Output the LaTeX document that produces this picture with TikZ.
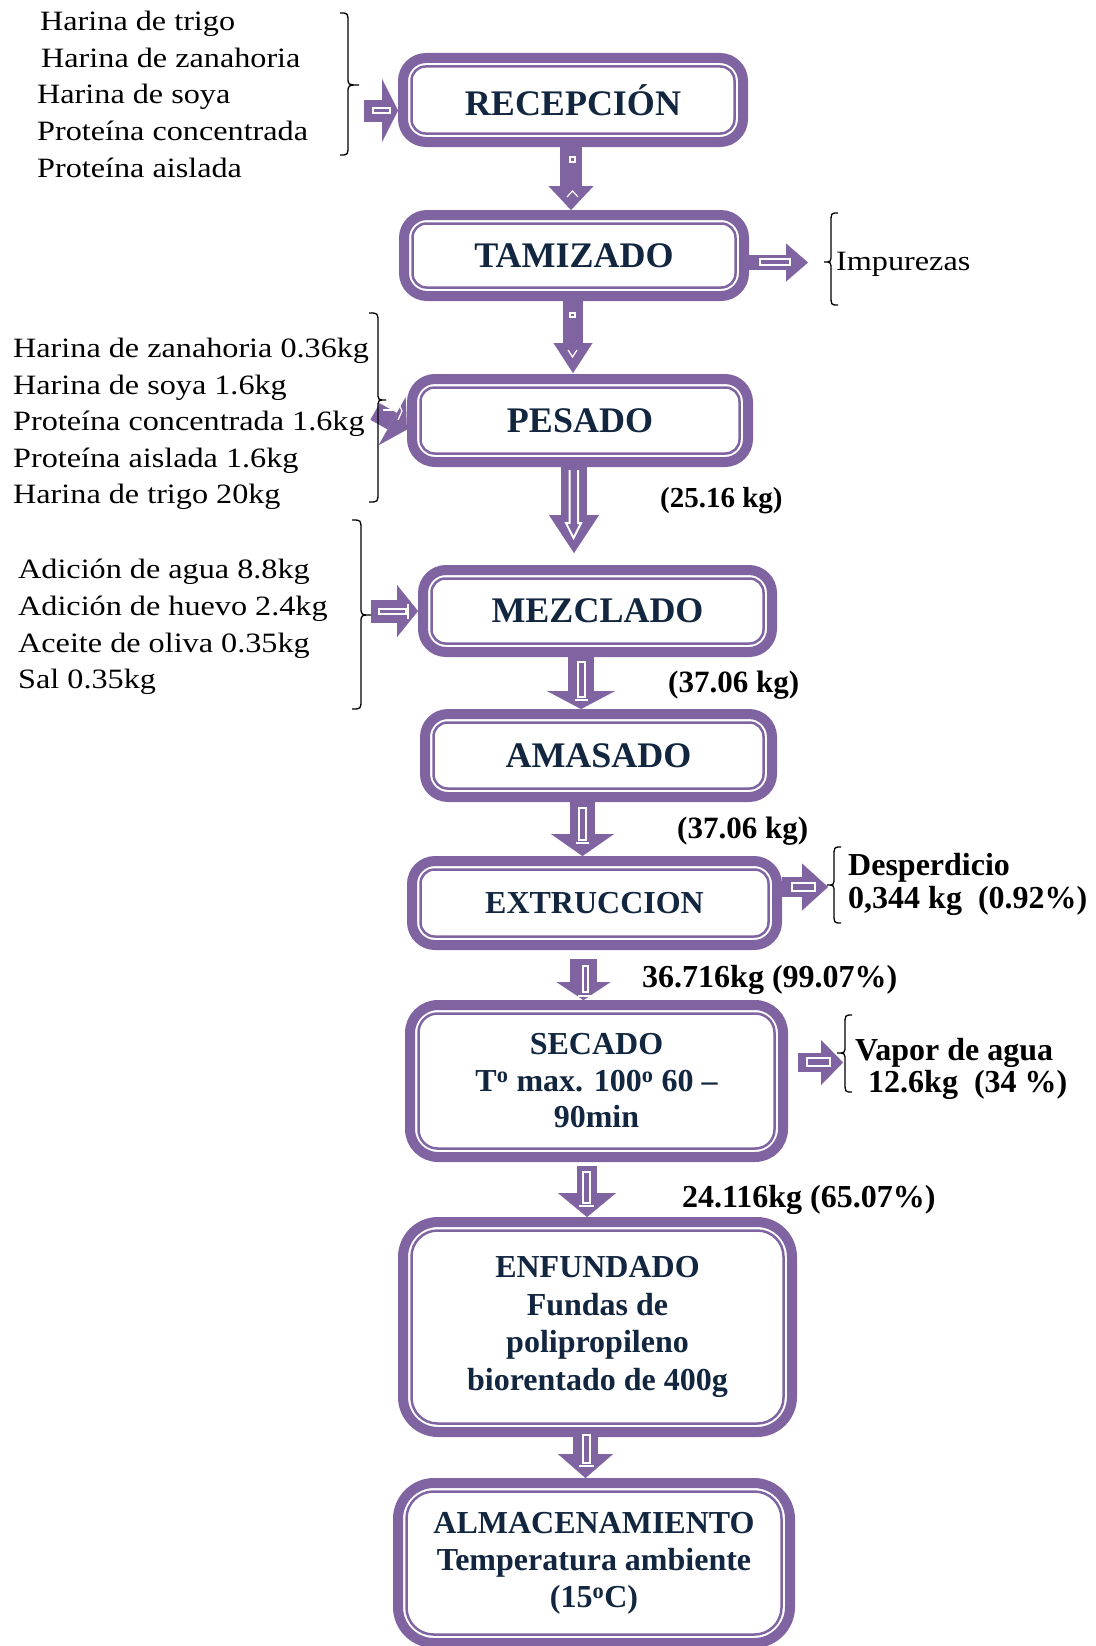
\documentclass[tikz,border=0pt]{standalone}
\usepackage{fontspec}
\setmainfont{Liberation Serif}
\newfontfamily\listfont[FakeStretch=1.15]{Liberation Serif}
\usetikzlibrary{arrows.meta}
\definecolor{purp}{HTML}{8064A2}
\definecolor{navy}{HTML}{12263F}

% inner thin frame of a process box
\newcommand\innerframe[2]{\draw[purp, line width=2.5pt, rounded corners=#2]
  ([shift={(13.5pt,-13.5pt)}]#1.north west) rectangle ([shift={(-13.5pt,13.5pt)}]#1.south east);}
% curly brace: hook x, stem x, tip x, top y, tip y, bottom y
\newcommand\cbrace[6]{\draw[bracepen] (#1,#4) .. controls (#2,#4) .. (#2,#4+10) -- (#2,#5-8)
  .. controls (#2,#5) .. (#3,#5) .. controls (#2,#5) .. (#2,#5+8) -- (#2,#6-10)
  .. controls (#2,#6) .. (#1,#6);}

\begin{document}
\begin{tikzpicture}[x=1pt,y=-1pt,
  stage/.style={draw=purp, line width=10pt, fill=white, rounded corners=#1,
    inner sep=0pt, align=center, text=navy},
  stage/.default=23pt,
  big/.style={font=\bfseries\fontsize{36}{40}\selectfont},
  mid/.style={font=\bfseries\fontsize{32}{36.5}\selectfont},
  item/.style={font=\listfont\fontsize{28}{36}\selectfont, anchor=base west, inner sep=0pt},
  wt/.style={font=\bfseries\fontsize{#1}{36}\selectfont, anchor=base west, inner sep=0pt},
  wt/.default=31,
  blk/.style n args={3}{draw=purp, line width=#1,
    -{Triangle[length=#3 0 0, width=#2 0 0, line width=0.1pt 0 0]}},
  bracepen/.style={draw=black, line width=1.3pt},
  glint/.style={draw=white, line width=1.2pt}
]
\useasboundingbox (0,0) rectangle (1095,1646);

% ---------- process boxes ----------
\node[stage, big, minimum width=340pt, minimum height=84pt] (rec) at (573,100) {RECEPCIÓN};
\node[stage, big, minimum width=340pt, minimum height=81pt] (tam) at (574,255.5) {TAMIZADO};
\node[stage, big, minimum width=336pt, minimum height=83pt] (pes) at (580,420.5) {PESADO};
\node[stage, big, minimum width=349pt, minimum height=82pt] (mez) at (597.5,611) {MEZCLADO};
\node[stage, big, minimum width=347pt, minimum height=83pt] (ama) at (598.5,755.5) {AMASADO};
\node[stage, mid, minimum width=365pt, minimum height=84pt] (ext) at (594.5,903) {EXTRUCCION};
\node[stage=28pt, mid, minimum width=373pt, minimum height=152pt] (sec) at (596.5,1081)
  {SECADO\\T\textsuperscript{o} max. 100\textsuperscript{o} 60 –\\90min};
\node[stage=35pt, font=\bfseries\fontsize{32}{37.5}\selectfont, minimum width=389pt, minimum height=210pt]
  (enf) at (597.5,1327) {ENFUNDADO\\Fundas de\\polipropileno\\biorentado de 400g};
\node[stage=36pt, font=\bfseries\fontsize{32}{37}\selectfont, minimum width=392pt, minimum height=160pt]
  (alm) at (594,1563) {ALMACENAMIENTO\\Temperatura ambiente\\(15\textsuperscript{o}C)};

\innerframe{rec}{14pt}
\innerframe{tam}{14pt}
\innerframe{pes}{14pt}
\innerframe{mez}{14pt}
\innerframe{ama}{14pt}
\innerframe{ext}{14pt}
\innerframe{sec}{19pt}
\innerframe{enf}{26pt}
\innerframe{alm}{27pt}

% ---------- free ends of side arrows ----------
\coordinate (in1) at (364,110.5);
\coordinate (in2) at (375,411.5);
\coordinate (in3) at (371,611);
\coordinate (out1) at (808,262.5);
\coordinate (out2) at (828,887);
\coordinate (out3) at (843,1062.5);

% ---------- main flow arrows ----------
\draw[blk={22pt}{45pt}{24pt}] ([xshift=-2pt]rec.south) -- ([xshift=-3pt]tam.north);
\draw[blk={20pt}{39pt}{30pt}] ([xshift=-1pt]tam.south) -- ([xshift=-7pt,yshift=1pt]pes.north);
\draw[blk={26pt}{50pt}{38pt}] ([xshift=-6pt,yshift=2pt]pes.south) -- ([xshift=-23.5pt,yshift=12pt]mez.north);
\draw[blk={26pt}{68pt}{18pt}] ([xshift=-16.5pt]mez.south) -- ([xshift=-17.5pt]ama.north);
\draw[blk={25pt}{63pt}{22pt}] ([xshift=-16pt]ama.south) -- ([xshift=-12pt]ext.north);
\draw[blk={27pt}{54pt}{18pt}] ([xshift=-11pt,yshift=-9pt]ext.south) -- ([xshift=-13pt]sec.north);
\draw[blk={20pt}{58pt}{24pt}] ([xshift=-9.5pt,yshift=-4pt]sec.south) -- ([xshift=-10.5pt]enf.north);
\draw[blk={25pt}{55pt}{24pt}] ([xshift=-12pt]enf.south) -- ([xshift=-8.5pt]alm.north);

% ---------- side arrows ----------
\draw[blk={22pt}{63pt}{16pt}] (in1) -- ([yshift=-10.5pt]rec.west);
\draw[blk={15pt}{38pt}{22pt}] ([yshift=-7pt]tam.east) -- (out1);
\draw[blk={19pt}{55pt}{17pt}] (in2) -- ([yshift=-9pt]pes.west);
\draw[blk={23pt}{52pt}{21pt}] (in3) -- (mez.west);
\draw[blk={20pt}{47pt}{26pt}] ([yshift=16pt]ext.east) -- (out2);
\draw[blk={19pt}{45pt}{22pt}] ([xshift=10pt,yshift=18.5pt]sec.east) -- (out3);

% ---------- white highlights inside the arrows ----------
\draw[glint] (570,157) rectangle (575,162);
\draw[glint] (567,197) -- (572.5,191) -- (578,197);
\draw[glint] (570,313) rectangle (575,317);
\draw[glint] (568,350) -- (572.5,357) -- (577,350);
\draw[glint, line width=2pt] (569.5,470) -- (569.5,523) -- (566,523) -- (573.5,538) -- (581,523) -- (578,523) -- (578,470);
\draw[glint] (578,662) rectangle (585,697);
\draw[glint] (575,700) -- (588,700);
\draw[glint] (579,808) rectangle (586,840);
\draw[glint] (576,843) -- (589,843);
\draw[glint] (583,966) rectangle (588,992);
\draw[glint] (578,996) -- (593,996);
\draw[glint] (583,1172) rectangle (590,1203);
\draw[glint] (579,1206) -- (594,1206);
\draw[glint] (583,1435) rectangle (590,1463);
\draw[glint] (579,1466) -- (594,1466);
\draw[glint] (373,108) rectangle (390,113);
\draw[glint] (760,259) rectangle (790,265);
\draw[glint] (383,410) -- (397,410);
\draw[glint] (398,402) -- (402,411) -- (398,420);
\draw[glint] (379,609) rectangle (406,614);
\draw[glint] (408,604) -- (408,619);
\draw[glint] (792,883) rectangle (815,891);
\draw[glint] (807,1058) rectangle (830,1066);

% ---------- braces ----------
\cbrace{340}{348}{359}{13}{85}{155}
\cbrace{369}{378}{386}{313}{400}{502}
\cbrace{352}{361}{371}{520}{615}{709}
\cbrace{838}{831}{824}{213}{262}{305}
\cbrace{841}{834}{827}{847}{885}{923}
\cbrace{852}{845}{837}{1015}{1053}{1092}

% ---------- ingredient lists ----------
\node[item] (i1) at (40,31) {Harina de trigo};
\node[item] (i2) at (41,67) {Harina de zanahoria};
\node[item] (i3) at (37,103) {Harina de soya};
\node[item] (i4) at (37,140) {Proteína concentrada};
\node[item] (i5) at (37,177) {Proteína aislada};

\node[item] (p1) at (13,357) {Harina de zanahoria 0.36kg};
\node[item] (p2) at (13,394) {Harina de soya 1.6kg};
\node[item] (p3) at (13,430) {Proteína concentrada 1.6kg};
\node[item] (p4) at (13,467) {Proteína aislada 1.6kg};
\node[item] (p5) at (13,503) {Harina de trigo 20kg};

\node[item] (m1) at (18,578) {Adición de agua 8.8kg};
\node[item] (m2) at (18,615) {Adición de huevo 2.4kg};
\node[item] (m3) at (18,652) {Aceite de oliva 0.35kg};
\node[item] (m4) at (18,688) {Sal 0.35kg};

\node[item] (imp) at (836,270) {Impurezas};

% ---------- mass balance labels ----------
\node[wt=29] (w1) at (660,507) {(25.16 kg)};
\node[wt=31] (w2) at (668,692) {(37.06 kg)};
\node[wt=31] (w3) at (677,838) {(37.06 kg)};
\node[wt=32] (w4) at (642,987) {36.716kg (99.07\%)};
\node[wt=32] (w5) at (682,1207) {24.116kg (65.07\%)};
\node[wt=32] (d1) at (848,875) {Desperdicio};
\node[wt=32] (d2) at (848,908) {0,344 kg\ \ (0.92\%)};
\node[wt=32] (v1) at (855,1060) {Vapor de agua};
\node[wt=32] (v2) at (868,1092) {12.6kg\ \ (34 \%)};
\end{tikzpicture}
\end{document}
